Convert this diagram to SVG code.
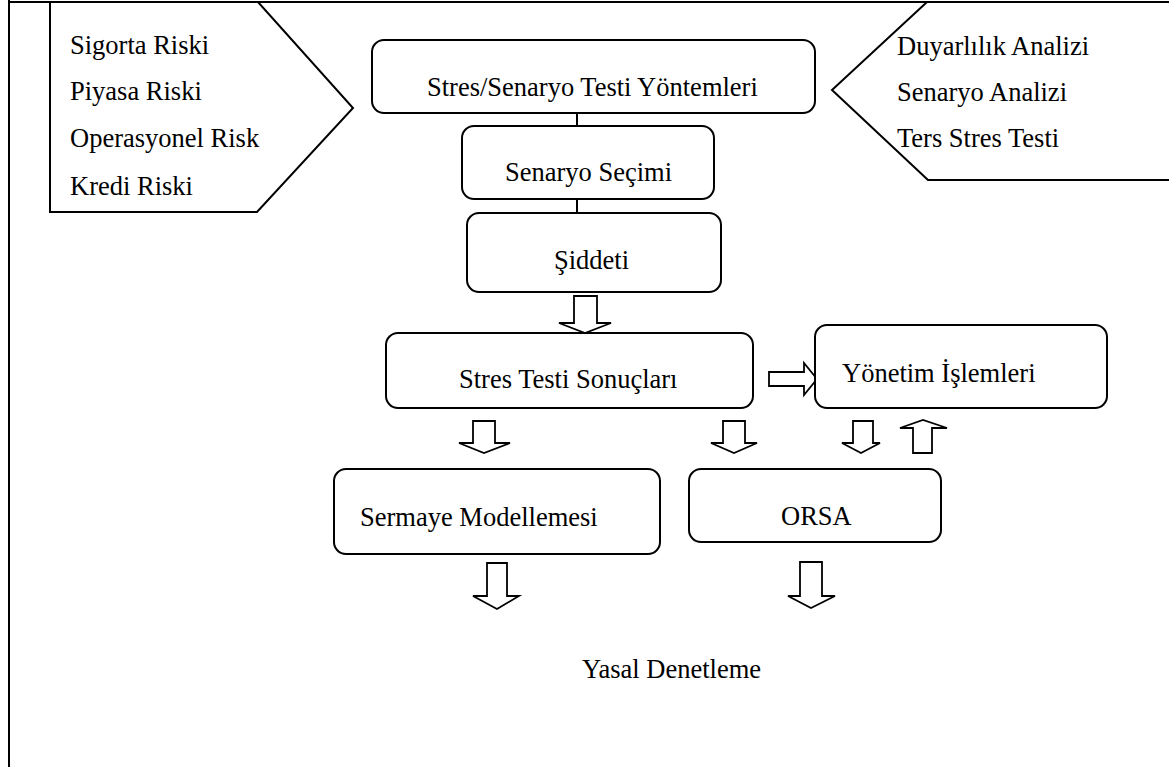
<svg xmlns="http://www.w3.org/2000/svg" width="1169" height="767" viewBox="0 0 1169 767">
<style>
  .box{fill:#fff;stroke:#000;stroke-width:2}
  .shape{fill:#fff;stroke:#000;stroke-width:2;stroke-linejoin:miter}
  .open{fill:none;stroke:#000;stroke-width:2}
  .frame{fill:none;stroke:#000;stroke-width:2}
  .conn{stroke:#000;stroke-width:2;fill:none}
  .barrow{fill:#fff;stroke:#000;stroke-width:1.8;stroke-linejoin:miter}
  text{font-family:"Liberation Serif","Times New Roman",serif;font-size:26.5px;fill:#000}
</style>
<rect width="1169" height="767" fill="#fff"/>
<g id="frame">
  <line class="frame" x1="9" y1="0" x2="9" y2="767"/>
  <line class="frame" x1="9" y1="2" x2="1169" y2="2"/>
</g>
<g id="risk-types">
  <polygon class="shape" points="50,2 258,2 353,108 257,212 50,212"/>
  <text x="70" y="54">Sigorta Riski</text>
  <text x="70" y="100">Piyasa Riski</text>
  <text x="70" y="147">Operasyonel Risk</text>
  <text x="70" y="195">Kredi Riski</text>
</g>
<g id="methods">
  <polyline class="open" points="927,2 832,90 928,180 1169,180"/>
  <text x="897" y="55">Duyarlılık Analizi</text>
  <text x="897" y="101">Senaryo Analizi</text>
  <text x="897" y="147">Ters Stres Testi</text>
</g>
<g id="connectors">
  <line class="conn" x1="577" y1="113" x2="577" y2="135"/>
  <line class="conn" x1="577" y1="190" x2="577" y2="213"/>
  <polygon class="barrow" points="574,296 597,296 597,323 611,323 585,333 559,323 574,323"/>
  <polygon class="barrow" points="769,372 804,372 804,363 817,379 804,395 804,386 769,386"/>
  <polygon class="barrow" points="473,421 495,421 495,443 510,443 484,453 459,443 473,443"/>
  <polygon class="barrow" points="723,421 745,421 745,443 757,443 734,453 711,443 723,443"/>
  <polygon class="barrow" points="853,421 873,421 873,443 880,443 861,453 842,443 853,443"/>
  <polygon class="barrow" points="913,453 932,453 932,428 947,428 923,420 900,428 913,428"/>
  <polygon class="barrow" points="487,563 507,563 507,596 519,596 497,609 473,596 487,596"/>
  <polygon class="barrow" points="800,562 822,562 822,596 835,596 811,608 788,596 800,596"/>
</g>
<g id="node-methods">
  <rect class="box" x="372" y="40" width="443" height="73" rx="12"/>
  <text x="427" y="96">Stres/Senaryo Testi Yöntemleri</text>
</g>
<g id="node-scenario">
  <rect class="box" x="462" y="126" width="252" height="73" rx="12"/>
  <text x="505" y="181">Senaryo Seçimi</text>
</g>
<g id="node-severity">
  <rect class="box" x="467" y="213" width="254" height="79" rx="12"/>
  <text x="554" y="269">Şiddeti</text>
</g>
<g id="node-results">
  <rect class="box" x="386" y="333" width="367" height="75" rx="12"/>
  <text x="459" y="388">Stres Testi Sonuçları</text>
</g>
<g id="node-management">
  <rect class="box" x="815" y="325" width="292" height="83" rx="12"/>
  <text x="842" y="382">Yönetim İşlemleri</text>
</g>
<g id="node-capital">
  <rect class="box" x="334" y="469" width="326" height="85" rx="12"/>
  <text x="360" y="526">Sermaye Modellemesi</text>
</g>
<g id="node-orsa">
  <rect class="box" x="689" y="469" width="252" height="73" rx="12"/>
  <text x="781" y="525">ORSA</text>
</g>
<g id="node-legal">
  <text x="582" y="678">Yasal Denetleme</text>
</g>
</svg>
